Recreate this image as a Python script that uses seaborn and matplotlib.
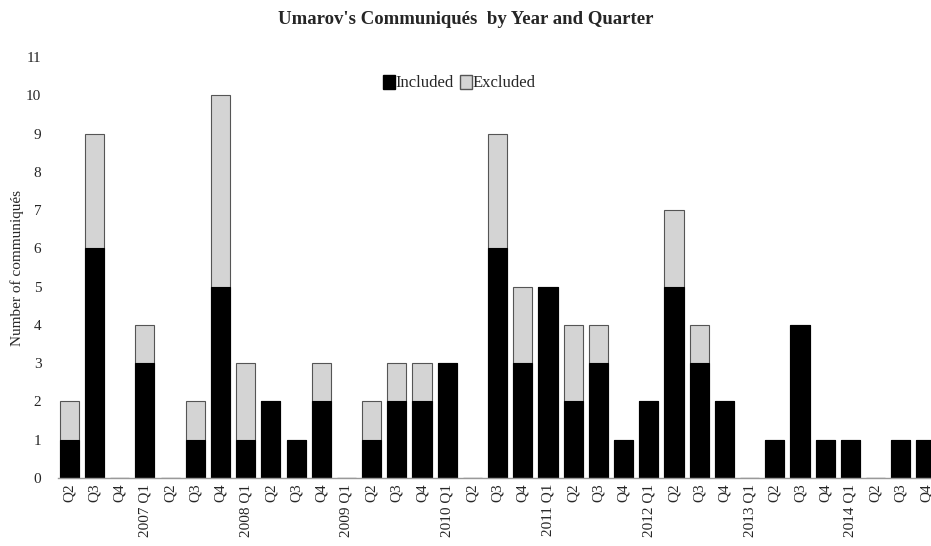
import matplotlib
matplotlib.use("Agg")
from matplotlib import pyplot as plt
from matplotlib.patches import Patch
import seaborn as sns
import pandas as pd

sns.set_style("white")
plt.rcParams['font.family'] = ['Liberation Serif', 'DejaVu Serif']

# 四半期ラベル（2006 Q2 〜 2014 Q4）
quarters = ["Q2", "Q3", "Q4",
            "2007 Q1", "Q2", "Q3", "Q4",
            "2008 Q1", "Q2", "Q3", "Q4",
            "2009 Q1", "Q2", "Q3", "Q4",
            "2010 Q1", "Q2", "Q3", "Q4",
            "2011 Q1", "Q2", "Q3", "Q4",
            "2012 Q1", "Q2", "Q3", "Q4",
            "2013 Q1", "Q2", "Q3", "Q4",
            "2014 Q1", "Q2", "Q3", "Q4"]
included = [1, 6, 0, 3, 0, 1, 5, 1, 2, 1, 2, 0, 1, 2, 2, 3, 0, 6, 3, 5,
            2, 3, 1, 2, 5, 3, 2, 0, 1, 4, 1, 1, 0, 1, 1]
excluded = [1, 3, 0, 1, 0, 1, 5, 2, 0, 0, 1, 0, 1, 1, 1, 0, 0, 3, 2, 0,
            2, 1, 0, 0, 2, 1, 0, 0, 0, 0, 0, 0, 0, 0, 0]

df = pd.DataFrame({"idx": range(len(quarters)), "included": included, "excluded": excluded})
df["total"] = df["included"] + df["excluded"]

fig = plt.figure(figsize=(9.31, 5.46), dpi=100)
ax = fig.add_axes([58 / 931, 68 / 546, 1 - 58 / 931, 421 / 546])

# 積み上げ棒：合計（灰色）の上に含まれる分（黒）を重ねる
sns.barplot(data=df, x="idx", y="total", color="#d4d4d4", edgecolor="#555555",
            linewidth=0.8, width=0.76, saturation=1, ax=ax)
sns.barplot(data=df, x="idx", y="included", color="black", edgecolor="black",
            linewidth=0.8, width=0.76, saturation=1, ax=ax)

ax.set_xlim(-0.45, 34.2)
ax.set_ylim(0, 11)
ax.set_yticks(range(12))
ax.set_xticks(range(len(quarters)))
ax.set_xticklabels(quarters, rotation=90, fontsize=11)
ax.tick_params(axis="y", labelsize=11, length=0, pad=12)
ax.tick_params(axis="x", length=0, pad=4)
ax.set_xlabel("")
ax.set_ylabel("Number of communiqués", fontsize=11)
ax.yaxis.set_label_coords(-0.039, 0.5)

for s in ["top", "right", "left"]:
    ax.spines[s].set_visible(False)
ax.spines["bottom"].set_color("#999999")
ax.spines["bottom"].set_linewidth(1.0)

handles = [Patch(facecolor="black", edgecolor="black", label="Included"),
           Patch(facecolor="#d4d4d4", edgecolor="#555555", label="Excluded")]
ax.legend(handles=handles, loc="center", bbox_to_anchor=(486 / 931 - 58 / 931, (546 - 83 - 68) / 421),
          bbox_transform=ax.transAxes, ncol=2, frameon=False, fontsize=12,
          handlelength=0.7, handleheight=0.9, handletextpad=0.05, columnspacing=0.4)

fig.suptitle("Umarov's Communiqués  by Year and Quarter", fontsize=13.5,
             fontweight="bold", x=0.5, y=0.98)

plt.savefig("out.png", dpi=100)
